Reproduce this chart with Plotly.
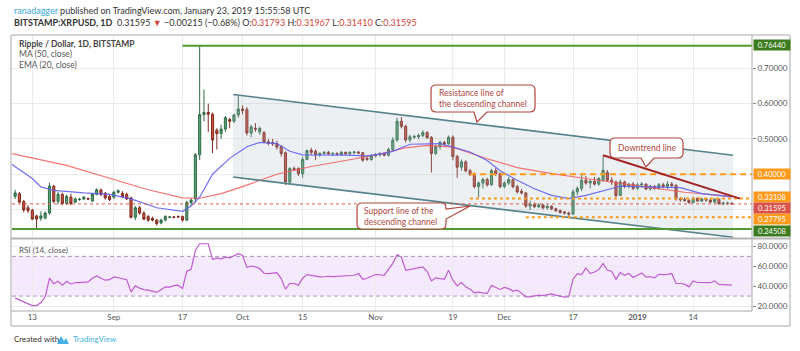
import pandas as pd
import plotly.graph_objects as go

# ---------------- data ----------------
dates = pd.date_range("2018-08-09", "2019-01-23", freq="D")

opens = [
    # Aug 9-31
    .337, .345, .323, .305, .298, .282, .275, .276, .290, .366, .323, .343, .317, .335, .321, .328, .330, .331, .324, .343, .355, .346, .337,
    # Sep
    .335, .349, .346, .343, .333, .278, .305, .290, .280, .275, .270, .262, .270, .278, .279, .280, .280, .270, .320, .330, .455, .569, .575, .570, .525, .515, .528, .555, .550, .568,
    # Oct
    .585, .583, .517, .530, .520, .518, .492, .490, .487, .478, .461, .378, .416, .416, .402, .442, .468, .465, .455, .459, .462, .458, .459, .456, .462, .458, .461, .463, .461, .445, .442,
    # Nov
    .452, .455, .459, .454, .470, .497, .550, .536, .497, .505, .506, .510, .518, .504, .459, .478, .490, .486, .505, .450, .420, .435, .410, .400, .365, .375, .385, .370, .410, .402,
    # Dec
    .365, .375, .385, .365, .352, .347, .310, .315, .308, .313, .305, .309, .302, .297, .293, .290, .287, .350, .360, .383, .375, .380, .372, .383, .405, .383, .378, .340, .378, .365, .372,
    # Jan 1-23
    .360, .370, .372, .358, .365, .360, .370, .366, .372, .368, .330, .328, .326, .320, .332, .324, .330, .327, .321, .329, .317, .318, .31793,
]
highs = [
    .356, .350, .327, .312, .302, .285, .295, .295, .376, .370, .350, .348, .342, .345, .334, .333, .338, .334, .347, .360, .360, .350, .342,
    .353, .357, .352, .348, .336, .310, .310, .295, .285, .280, .273, .274, .284, .282, .282, .283, .283, .325, .332, .460, .764, .640, .600, .575, .530, .540, .565, .560, .572, .625,
    .595, .590, .540, .545, .535, .522, .500, .500, .495, .482, .465, .420, .422, .420, .450, .470, .475, .470, .462, .465, .466, .462, .462, .466, .464, .465, .466, .466, .463, .450, .456,
    .460, .462, .462, .475, .505, .560, .562, .540, .512, .512, .515, .525, .522, .508, .485, .495, .495, .510, .510, .455, .442, .440, .415, .405, .380, .390, .390, .415, .418, .405,
    .380, .392, .388, .370, .358, .350, .325, .320, .318, .316, .313, .312, .305, .300, .296, .294, .356, .365, .400, .395, .385, .392, .392, .454, .412, .392, .382, .385, .382, .375, .378,
    .375, .378, .374, .370, .370, .375, .376, .380, .378, .372, .335, .334, .330, .336, .334, .333, .333, .330, .332, .331, .322, .322, .31967,
]
lows = [
    .330, .318, .292, .290, .270, .245, .268, .272, .285, .318, .315, .312, .313, .312, .318, .325, .327, .327, .322, .340, .338, .328, .324,
    .330, .345, .333, .327, .275, .270, .285, .270, .265, .266, .255, .258, .266, .275, .275, .276, .266, .267, .310, .320, .440, .550, .520, .460, .470, .500, .520, .530, .545, .560,
    .570, .510, .505, .520, .512, .488, .482, .480, .470, .450, .370, .370, .410, .395, .390, .440, .455, .440, .450, .455, .455, .452, .453, .454, .455, .455, .457, .457, .435, .438, .438,
    .448, .450, .450, .450, .465, .492, .530, .490, .490, .500, .500, .505, .500, .405, .455, .470, .480, .484, .440, .390, .410, .405, .395, .360, .335, .360, .365, .368, .395, .360,
    .360, .370, .360, .345, .343, .305, .298, .305, .304, .300, .300, .298, .293, .288, .286, .282, .285, .340, .352, .370, .360, .368, .368, .380, .378, .370, .335, .338, .360, .360, .355,
    .356, .362, .355, .354, .356, .356, .360, .358, .364, .325, .322, .322, .316, .318, .322, .322, .322, .318, .318, .313, .312, .313, .31410,
]
closes = [
    .347, .321, .299, .297, .273, .273, .282, .290, .366, .323, .343, .317, .337, .317, .330, .329, .335, .330, .343, .356, .343, .333, .328,
    .349, .353, .337, .330, .278, .305, .290, .273, .270, .270, .260, .270, .280, .279, .278, .279, .270, .320, .327, .455, .569, .575, .570, .497, .515, .528, .560, .550, .568, .585,
    .580, .517, .534, .528, .530, .492, .487, .486, .477, .459, .378, .416, .413, .402, .442, .467, .462, .455, .459, .462, .458, .459, .456, .462, .458, .462, .463, .460, .440, .442, .452,
    .456, .459, .454, .470, .497, .550, .536, .497, .506, .507, .510, .518, .504, .459, .478, .490, .486, .505, .450, .420, .435, .410, .400, .365, .375, .385, .370, .410, .402, .365,
    .375, .385, .365, .350, .347, .310, .315, .308, .313, .305, .309, .302, .297, .292, .290, .287, .350, .360, .383, .375, .380, .372, .388, .411, .383, .380, .340, .378, .365, .372, .360,
    .370, .372, .358, .365, .360, .370, .366, .372, .368, .330, .328, .326, .320, .332, .324, .330, .327, .321, .329, .317, .318, .318, .31595,
]
rsi_values = [
    28, 26, 24, 22.5, 20.5, 20.5, 23.5, 29, 48, 42.5, 45, 41, 45, 42, 43.7, 43.5, 44, 44.3, 48, 50.3, 48, 46, 46.5,
    49.3, 48.5, 47.5, 46.5, 34.3, 40.3, 38, 36.5, 36, 35, 33.7, 36.5, 39.3, 39, 40.5, 41, 37.7, 55, 57, 76, 82.7, 82.7, 82.7, 67, 68.3, 67.5, 69.3, 68.5, 70.5, 72.7,
    71, 58.7, 60.3, 59.5, 57.7, 53, 52.7, 53, 53.7, 47.7, 37, 42.7, 42.7, 41, 48, 51.7, 51, 50, 49.3, 49.5, 50, 49.7, 50, 50.3, 50.3, 50.5, 51, 52.7, 47, 48, 50,
    51.7, 51.5, 51, 57, 63, 71.7, 69.3, 56, 57, 58, 58.5, 59.3, 55, 45.3, 48.3, 47.5, 47, 56, 46, 40.3, 43.7, 39.3, 37, 33.3, 34, 33.3, 32.7, 41, 39, 36.7,
    38.7, 37.5, 35, 36, 33, 29.3, 29.3, 30.5, 31, 30.5, 31.5, 32.3, 31, 29.7, 29, 29.5, 47, 52.7, 51.7, 58.3, 52.7, 54.3, 56.7, 62.7, 56, 55, 47, 53.7, 51, 52.7, 48.7,
    51, 53.3, 49.3, 49.5, 48.3, 52, 51.7, 51.8, 52.7, 42.7, 42.7, 42, 39.3, 45.3, 43.7, 43.5, 43.3, 43.5, 45.3, 41.7, 41.5, 41.3, 41,
]

ma50_dates = ["2018-08-08", "2018-08-21", "2018-09-01", "2018-09-09", "2018-09-17", "2018-09-21", "2018-09-26",
              "2018-10-01", "2018-10-09", "2018-10-17", "2018-10-25", "2018-11-02", "2018-11-08", "2018-11-13",
              "2018-11-19", "2018-11-27", "2018-12-04", "2018-12-12", "2018-12-20", "2018-12-28", "2019-01-04",
              "2019-01-12", "2019-01-20", "2019-01-23"]
ma50_values = [0.459, 0.425, 0.385, 0.356, 0.333, 0.332, 0.345, 0.365, 0.400, 0.422, 0.439, 0.457, 0.475, 0.482,
               0.477, 0.444, 0.419, 0.402, 0.388, 0.373, 0.362, 0.349, 0.340, 0.337]

ema20_dates = ["2018-08-08", "2018-08-13", "2018-08-15", "2018-08-18", "2018-08-25", "2018-08-31", "2018-09-05",
               "2018-09-11", "2018-09-17", "2018-09-19", "2018-09-21", "2018-09-24", "2018-09-28", "2018-10-02",
               "2018-10-05", "2018-10-09", "2018-10-12", "2018-10-15", "2018-10-25", "2018-10-30", "2018-11-02",
               "2018-11-05", "2018-11-09", "2018-11-16", "2018-11-19", "2018-11-23", "2018-11-27", "2018-11-30",
               "2018-12-04", "2018-12-08", "2018-12-12", "2018-12-16", "2018-12-20", "2018-12-24", "2018-12-28",
               "2019-01-04", "2019-01-11", "2019-01-16", "2019-01-23"]
ema20_values = [0.430, 0.388, 0.364, 0.354, 0.347, 0.343, 0.330, 0.305, 0.295, 0.310, 0.335, 0.400, 0.445, 0.478,
                0.490, 0.487, 0.465, 0.455, 0.454, 0.452, 0.457, 0.465, 0.485, 0.487, 0.477, 0.463, 0.439, 0.410,
                0.383, 0.359, 0.340, 0.331, 0.340, 0.354, 0.366, 0.364, 0.362, 0.345, 0.336]

channel_dates = ["2018-09-28 19:00", "2019-01-23 07:00"]
channel_upper = [0.626, 0.454]
channel_lower = [0.392, 0.2216]

downtrend_dates = ["2018-12-24", "2019-01-24 22:00"]
downtrend_values = [0.454, 0.331]

level_values = [0.7644, 0.40, 0.33108, 0.27795, 0.24508, 0.31595]
level_labels = ["0.76440", "0.40000", "0.33108", "0.27795", "0.24508", "0.31595"]
level_starts = ["2018-09-17", "2018-11-23", "2018-11-23", "2018-12-06", None, None]

tick_dates = ["2018-08-13", "2018-09-01", "2018-09-17", "2018-10-01", "2018-10-15", "2018-11-01",
              "2018-11-19", "2018-12-01", "2018-12-17", "2019-01-01", "2019-01-14"]
tick_text = ["13", "Sep", "17", "Oct", "15", "Nov", "19", "Dec", "17", "<b>2019</b>", "14"]

price_ticks = [0.3, 0.4, 0.5, 0.6, 0.7]
price_ticktext = ["", "", "0.50000", "0.60000", "0.70000"]
rsi_ticks = [20, 40, 60, 80]
rsi_ticktext = ["20.0000", "40.0000", "60.0000", "80.0000"]

# ---------------- layout helpers ----------------
W, H = 800, 351
PL, PR, PT, PB = 12, 752, 35, 311
FONT = "Lato"

def px(x):
    return (x - PL) / (PR - PL)

def py(y):
    return (PB - y) / (PB - PT)

def P(x, y):
    return f"{px(x):.5f},{py(y):.5f}"

day0 = pd.Timestamp("2018-08-13")
x_left = day0 - pd.Timedelta(days=4.73)
x_right = day0 + pd.Timedelta(days=167.7)

fig = go.Figure()

# channel shading
fig.add_trace(go.Scatter(
    x=[channel_dates[0], channel_dates[1], channel_dates[1], channel_dates[0]],
    y=[channel_upper[0], channel_upper[1], channel_lower[1], channel_lower[0]],
    fill="toself", fillcolor="rgba(175,185,200,0.22)", line=dict(width=0),
    mode="lines", hoverinfo="skip", xaxis="x", yaxis="y"))

# candles
fig.add_trace(go.Candlestick(
    x=dates, open=opens, high=highs, low=lows, close=closes,
    increasing=dict(fillcolor="#5aa577", line=dict(color="#2f6a45", width=1)),
    decreasing=dict(fillcolor="#d2513f", line=dict(color="#7e2a1e", width=1)),
    whiskerwidth=0, xaxis="x", yaxis="y"))

# moving averages
fig.add_trace(go.Scatter(x=ma50_dates, y=ma50_values, mode="lines",
                         line=dict(color="rgba(245,90,90,0.85)", width=1.2), xaxis="x", yaxis="y"))
fig.add_trace(go.Scatter(x=ema20_dates, y=ema20_values, mode="lines",
                         line=dict(color="rgba(95,95,245,0.9)", width=1.2), xaxis="x", yaxis="y"))

# channel lines
for ys in (channel_upper, channel_lower):
    fig.add_trace(go.Scatter(x=channel_dates, y=ys, mode="lines",
                             line=dict(color="#55838c", width=1.6), xaxis="x", yaxis="y"))

# horizontal levels
level_styles = [
    dict(color="#4f9a30", width=2, dash="solid"),
    dict(color="#ff9a1a", width=2, dash="6px,4px"),
    dict(color="#ff9a1a", width=2, dash="dot"),
    dict(color="#ff9a1a", width=2, dash="dot"),
    dict(color="#4f9a30", width=2, dash="solid"),
    dict(color="#e0574a", width=1, dash="dot"),
]
for v, s, st in zip(level_values, level_starts, level_styles):
    start = s if s is not None else x_left
    fig.add_trace(go.Scatter(x=[start, x_right], y=[v, v], mode="lines",
                             line=st, xaxis="x", yaxis="y"))

# downtrend line
fig.add_trace(go.Scatter(x=downtrend_dates, y=downtrend_values, mode="lines",
                         line=dict(color="#a32222", width=2), xaxis="x", yaxis="y"))

# RSI
fig.add_trace(go.Scatter(x=dates, y=rsi_values, mode="lines",
                         line=dict(color="#c25ad4", width=1.2), xaxis="x2", yaxis="y2"))

shapes = []
# RSI band
shapes.append(dict(type="rect", xref="paper", yref="y2", x0=0, x1=1, y0=30, y1=70,
                   fillcolor="rgba(190,120,245,0.16)", line=dict(width=0), layer="below"))
for lv in (30, 70):
    shapes.append(dict(type="line", xref="paper", yref="y2", x0=0, x1=1, y0=lv, y1=lv,
                       line=dict(color="rgba(150,130,170,0.8)", width=1, dash="4px,3px")))

# frame and separators
frame_col = "#a8a8a8"
shapes.append(dict(type="rect", xref="paper", yref="paper", x0=px(11), x1=px(790), y0=py(326), y1=py(35),
                   line=dict(color=frame_col, width=1), fillcolor="rgba(0,0,0,0)"))
shapes.append(dict(type="line", xref="paper", yref="paper", x0=px(752), x1=px(752), y0=py(311), y1=py(35),
                   line=dict(color=frame_col, width=1)))
shapes.append(dict(type="line", xref="paper", yref="paper", x0=px(11), x1=px(790), y0=py(238.5), y1=py(238.5),
                   line=dict(color="#b4b4b4", width=2)))
shapes.append(dict(type="line", xref="paper", yref="paper", x0=px(11), x1=px(752), y0=py(311), y1=py(311),
                   line=dict(color=frame_col, width=1)))

# callouts
co_col = "#b0463c"

def callout_bottom(x0, y0, x1, y1, tb0, tb1, tx, ty, r=5):
    return ("M " + P(x0 + r, y0) + " L " + P(x1 - r, y0) + " Q " + P(x1, y0) + " " + P(x1, y0 + r) +
            " L " + P(x1, y1 - r) + " Q " + P(x1, y1) + " " + P(x1 - r, y1) +
            " L " + P(tb1, y1) + " L " + P(tx, ty) + " L " + P(tb0, y1) +
            " L " + P(x0 + r, y1) + " Q " + P(x0, y1) + " " + P(x0, y1 - r) +
            " L " + P(x0, y0 + r) + " Q " + P(x0, y0) + " " + P(x0 + r, y0) + " Z")

def callout_right(x0, y0, x1, y1, tr0, tr1, tx, ty, r=5):
    return ("M " + P(x0 + r, y0) + " L " + P(x1 - r, y0) + " Q " + P(x1, y0) + " " + P(x1, y0 + r) +
            " L " + P(x1, tr0) + " L " + P(tx, ty) + " L " + P(x1, tr1) +
            " L " + P(x1, y1 - r) + " Q " + P(x1, y1) + " " + P(x1 - r, y1) +
            " L " + P(x0 + r, y1) + " Q " + P(x0, y1) + " " + P(x0, y1 - r) +
            " L " + P(x0, y0 + r) + " Q " + P(x0, y0) + " " + P(x0 + r, y0) + " Z")

for path in (callout_bottom(431, 85, 535, 112, 474, 487, 477, 122),
             callout_bottom(610, 138, 683, 158, 641, 654, 646, 167),
             callout_right(357, 203, 446, 229, 209, 219, 470, 206)):
    shapes.append(dict(type="path", xref="paper", yref="paper", path=path,
                       fillcolor="white", line=dict(color=co_col, width=1.2), layer="above"))

# TradingView logo (small)
shapes.append(dict(type="path", xref="paper", yref="paper",
                   path="M " + P(57, 344) + " L " + P(61, 336) + " L " + P(64, 341) + " L " + P(66, 338) +
                        " L " + P(69, 344) + " Z",
                   fillcolor="#45b2e3", line=dict(width=0)))

annotations = []

def txt(x, y, text, size=8.5, color="#333", anchor="left", align="left", yanchor="middle"):
    annotations.append(dict(xref="paper", yref="paper", x=px(x), y=py(y), text=text, showarrow=False,
                            xanchor=anchor, yanchor=yanchor, align=align,
                            font=dict(family=FONT, size=size, color=color)))

red = "#d0453a"
txt(12, 10.5, "<span style='color:#3aa8de'>ranadagger</span> published on TradingView.com, January 23, 2019 15:55:58 UTC", 9)
txt(12, 22.5, "<b>BITSTAMP:XRPUSD, 1D</b>  0.31595 <span style='color:%s'>▼</span> −0.00215 (−0.68%%) "
              "O:<span style='color:%s'>0.31793</span> H:<span style='color:%s'>0.31967</span> "
              "L:<span style='color:%s'>0.31410</span> C:<span style='color:%s'>0.31595</span>" % (red, red, red, red, red), 9)
txt(17, 44, "<b>Ripple / Dollar, 1D, BITSTAMP</b>", 8.5, "#444")
txt(17, 54.5, "MA (50, close)", 8.5, "#555")
txt(17, 65, "EMA (20, close)", 8.5, "#555")
txt(17, 250, "RSI (14, close)", 8, "#555")

txt(437, 98.5, "Resistance line of<br>the descending channel", 8.5, co_col)
txt(646.5, 148, "Downtrend line", 8.5, co_col, anchor="center", align="center")
txt(362, 216, "Support line of the<br>descending channel", 8.5, co_col)

txt(12, 339, "Created with", 8, "#333")
txt(71, 339, "TradingView", 8, "#45b2e3")

label_bgs = {0: "#3d7c1e", 1: "#ff9a1a", 2: "#ff9a1a", 3: "#ff9a1a", 4: "#3d7c1e", 5: "#d9534a"}
label_pos = {0: 44.5, 1: 174, 2: 196.7, 5: 207.7, 3: 219.3, 4: 231}
for idx in [0, 1, 2, 3, 4, 5]:
    annotations.append(dict(xref="paper", yref="paper", x=px(753), y=py(label_pos[idx]),
                            text=level_labels[idx], showarrow=False, xanchor="left", yanchor="middle",
                            bgcolor=label_bgs[idx], width=34, height=8, borderpad=1,
                            font=dict(family=FONT, size=7.5, color="white")))

grid_col = "#ebebeb"
fig.update_layout(
    width=W, height=H, autosize=False,
    margin=dict(l=PL, r=W - PR, t=PT, b=H - PB),
    paper_bgcolor="white", plot_bgcolor="white",
    showlegend=False, hovermode=False,
    font=dict(family=FONT, size=8, color="#555"),
    xaxis=dict(domain=[0, 1], anchor="y", range=[x_left, x_right], type="date",
               tickvals=tick_dates, showticklabels=False, ticks="",
               showgrid=True, gridcolor=grid_col, zeroline=False, showline=False,
               rangeslider=dict(visible=False), fixedrange=True),
    yaxis=dict(domain=[py(238.5), 1], anchor="x", range=[0.2179, 0.7946], side="right",
               tickvals=price_ticks, ticktext=price_ticktext, ticks="outside", ticklen=3,
               tickcolor="#888", tickfont=dict(family=FONT, size=8, color="#555"),
               showgrid=True, gridcolor=grid_col, zeroline=False, showline=False),
    xaxis2=dict(domain=[0, 1], anchor="y2", range=[x_left, x_right], type="date",
                tickvals=tick_dates, ticktext=tick_text, ticks="",
                tickfont=dict(family=FONT, size=8, color="#555"),
                showgrid=True, gridcolor=grid_col, zeroline=False, showline=False,
                rangeslider=dict(visible=False)),
    yaxis2=dict(domain=[0, py(239.5)], anchor="x2", range=[15, 87], side="right",
                tickvals=rsi_ticks, ticktext=rsi_ticktext, ticks="outside", ticklen=3,
                tickcolor="#888", tickfont=dict(family=FONT, size=8, color="#555"),
                showgrid=True, gridcolor=grid_col, zeroline=False, showline=False),
    shapes=shapes, annotations=annotations,
)

fig.write_html("out.html")
